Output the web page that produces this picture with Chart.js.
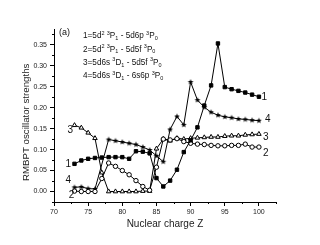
<!DOCTYPE html>
<html>
<head>
<meta charset="utf-8">
<script src="https://cdn.jsdelivr.net/npm/chart.js@4.4.1/dist/chart.umd.min.js"></script>
<style>
html, body { margin: 0; padding: 0; background: #fff; }
#wrap { width: 320px; height: 245px; }
</style>
</head>
<body>
<div id="wrap"><canvas id="chart"></canvas></div>
<script>
// nuclear charge Z for every point
const zValues = [73, 74, 75, 76, 77, 78, 79, 80, 81, 82, 83, 84, 85, 86,
                 87, 88, 89, 90, 91, 92, 93, 94, 95, 96, 97, 98, 99, 100];

// 1 = 5d2 3P1 - 5d6p 3P0  (filled squares)
const series1 = [0.066, 0.074, 0.078, 0.080, 0.081, 0.082, 0.082, 0.082, 0.078, 0.096, 0.095, 0.091, 0.032, 0.012,
                 0.026, 0.052, 0.094, 0.122, 0.153, 0.205, 0.253, 0.353, 0.249, 0.244, 0.240, 0.236, 0.231, 0.226];
// 2 = 5d2 3P1 - 5d5f 3P0  (open circles)
const series2 = [0.001, 0.000, 0.000, 0.000, 0.031, 0.068, 0.060, 0.050, 0.040, 0.026, 0.012, 0.003, 0.058, 0.125,
                 0.123, 0.126, 0.119, 0.115, 0.113, 0.112, 0.110, 0.109, 0.109, 0.110, 0.110, 0.113, 0.106, 0.106];
// 3 = 5d6s 3D1 - 5d5f 3P0  (open triangles)
const series3 = [0.158, 0.152, 0.140, 0.127, 0.045, 0.000, 0.000, 0.000, 0.000, 0.000, 0.001, 0.001, 0.102, 0.125,
                 0.121, 0.127, 0.125, 0.127, 0.128, 0.129, 0.130, 0.130, 0.132, 0.133, 0.133, 0.135, 0.136, 0.137];
// 4 = 5d6s 3D1 - 6s6p 3P0  (stars), no point at Z=77
const series4 = [0.010, 0.011, 0.007, 0.006, null, 0.124, 0.121, 0.118, 0.115, 0.112, 0.106, 0.099, 0.085, 0.071,
                 0.148, 0.179, 0.159, 0.261, 0.218, 0.201, 0.189, 0.182, 0.178, 0.176, 0.173, 0.172, 0.170, 0.169];

const xTicks = [70, 75, 80, 85, 90, 95, 100];
const xMinorTicks = [72.5, 77.5, 82.5, 87.5, 92.5, 97.5, 102.5];
const yTicks = [0, 0.05, 0.10, 0.15, 0.20, 0.25, 0.30, 0.35];
const yMinorTicks = [-0.025, 0.025, 0.075, 0.125, 0.175, 0.225, 0.275, 0.325, 0.375];

const legendLines = [
  '1=5d^2 ^3P_1 - 5d6p ^3P_0',
  '2=5d^2 ^3P_1 - 5d5f ^3P_0',
  '3=5d6s ^3D_1 - 5d5f ^3P_0',
  '4=5d6s ^3D_1 - 6s6p ^3P_0'
];

const FONT = '"Liberation Sans", Arial, sans-serif';

function pts(values) {
  return zValues.map((z, i) => ({ x: z, y: values[i] }));
}

// small filled star used as marker for series 4
function makeStar(r) {
  const c = document.createElement('canvas');
  const s = Math.ceil(r * 2) + 2;
  c.width = c.height = s;
  const g = c.getContext('2d');
  g.fillStyle = '#000';
  g.beginPath();
  for (let k = 0; k < 10; k++) {
    const a = -Math.PI / 2 + k * Math.PI / 5;
    const rr = k % 2 ? r * 0.45 : r;
    g.lineTo(s / 2 + rr * Math.cos(a), s / 2 + rr * Math.sin(a));
  }
  g.closePath();
  g.fill();
  return c;
}

// text with ^x superscripts and _x subscripts
function drawRich(ctx, str, x, y) {
  let i = 0;
  while (i < str.length) {
    let ch = str[i], size = 8.2, dy = 0;
    if ((ch === '^' || ch === '_') && i + 1 < str.length) {
      size = 5.5;
      dy = ch === '^' ? -3 : 2.5;
      ch = str[i + 1];
      i += 2;
    } else {
      i++;
    }
    ctx.font = size + 'px ' + FONT;
    ctx.fillText(ch, x, y + dy);
    x += ctx.measureText(ch).width;
  }
}

const annotations = {
  id: 'annotations',
  afterDraw(chart) {
    const { ctx, chartArea } = chart;
    const xs = chart.scales.x, ys = chart.scales.y;
    ctx.save();
    ctx.fillStyle = '#111';
    ctx.strokeStyle = '#000';
    ctx.lineWidth = 1;

    // minor ticks
    ctx.beginPath();
    xMinorTicks.forEach(v => {
      const px = Math.round(xs.getPixelForValue(v)) + 0.5;
      ctx.moveTo(px, chartArea.bottom);
      ctx.lineTo(px, chartArea.bottom + 2);
    });
    yMinorTicks.forEach(v => {
      const py = Math.round(ys.getPixelForValue(v)) + 0.5;
      ctx.moveTo(chartArea.left - 2, py);
      ctx.lineTo(chartArea.left, py);
    });
    ctx.stroke();

    // y axis title, a bit below the axis centre as in the source figure
    ctx.save();
    ctx.translate(26, ys.getPixelForValue(0.165));
    ctx.rotate(-Math.PI / 2);
    ctx.textAlign = 'center';
    ctx.textBaseline = 'middle';
    ctx.fillStyle = '#222';
    ctx.font = '9.7px ' + FONT;
    ctx.fillText('RMBPT oscillator strengths', 0, 0);
    ctx.restore();

    // panel tag and legend
    ctx.textBaseline = 'middle';
    ctx.textAlign = 'left';
    ctx.font = '9px ' + FONT;
    ctx.fillText('(a)', chartArea.left + 5, chartArea.top + 4);
    legendLines.forEach((line, i) => {
      drawRich(ctx, line, chartArea.left + 29, chartArea.top + 7 + i * 13.4);
    });

    // curve numbers
    ctx.textAlign = 'center';
    ctx.font = '10px ' + FONT;
    const tags = [
      ['1', 100.8, 0.225], ['4', 101.3, 0.172], ['3', 101.0, 0.129], ['2', 101.0, 0.091],
      ['3', 72.4, 0.146], ['1', 72.1, 0.065], ['4', 72.1, 0.026], ['2', 72.55, -0.010]
    ];
    tags.forEach(([t, x, y]) => {
      ctx.fillText(t, xs.getPixelForValue(x), ys.getPixelForValue(y));
    });
    ctx.restore();
  }
};

const lineStyle = {
  borderColor: '#000',
  borderWidth: 1,
  pointBorderColor: '#000',
  pointBorderWidth: 1,
  tension: 0
};

const data = {
  datasets: [
    Object.assign({ label: '1', data: pts(series1), pointStyle: 'rect', pointRadius: 2.4,
                    pointBackgroundColor: '#000' }, lineStyle),
    Object.assign({ label: '2', data: pts(series2), pointStyle: 'circle', pointRadius: 2.2,
                    pointBackgroundColor: '#fff' }, lineStyle),
    Object.assign({ label: '3', data: pts(series3), pointStyle: 'triangle', pointRadius: 2.6,
                    pointBackgroundColor: '#fff' }, lineStyle),
    Object.assign({ label: '4', data: pts(series4), pointStyle: makeStar(3), pointRadius: 3,
                    spanGaps: true }, lineStyle)
  ]
};

const options = {
  animation: false,
  responsive: true,
  maintainAspectRatio: false,
  layout: { padding: { left: 0, right: 44, top: 29, bottom: 0 } },
  plugins: {
    legend: { display: false },
    tooltip: { enabled: false }
  },
  scales: {
    x: {
      type: 'linear',
      min: 70,
      max: 102.5,
      afterBuildTicks: scale => { scale.ticks = xTicks.map(v => ({ value: v })); },
      afterFit: scale => { scale.height = 43; },
      grid: { drawOnChartArea: false, drawTicks: true, tickLength: 4, color: '#000' },
      border: { display: true, color: '#000', width: 1 },
      ticks: { color: '#222', font: { family: FONT, size: 7 }, padding: 2, maxRotation: 0 },
      title: { display: true, text: 'Nuclear charge Z', color: '#222',
               font: { family: FONT, size: 10 }, padding: { top: 0, bottom: 15 } }
    },
    y: {
      type: 'linear',
      min: -0.025,
      max: 0.3875,
      afterBuildTicks: scale => { scale.ticks = yTicks.map(v => ({ value: v })); },
      afterFit: scale => { scale.width = 54; },
      grid: { drawOnChartArea: false, drawTicks: true, tickLength: 4, color: '#000' },
      border: { display: true, color: '#000', width: 1 },
      ticks: { color: '#222', font: { family: FONT, size: 7 }, padding: 3,
               callback: v => v.toFixed(2) },
      title: { display: false }
    }
  }
};

const chartCanvas = document.getElementById('chart').getContext('2d');
const chart = new Chart(chartCanvas, {
  type: 'line',
  data: data,
  options: options,
  plugins: [annotations]
});
</script>
</body>
</html>
